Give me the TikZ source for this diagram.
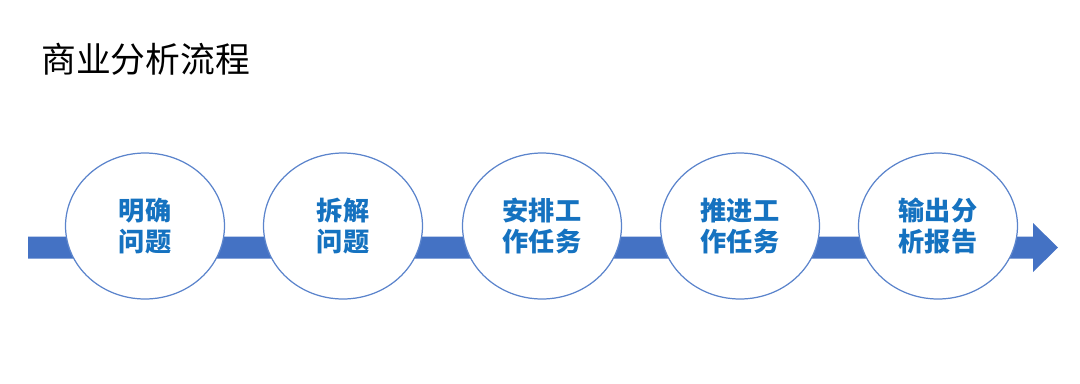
\documentclass[tikz,border=0pt]{standalone}
\usepackage{fontspec}
\usepackage{tikz}
\usetikzlibrary{positioning, shapes.geometric}
\newfontfamily\cjk{Noto Sans CJK SC}
\definecolor{bandblue}{HTML}{4472C4}
\definecolor{ringblue}{HTML}{5B84CC}
\definecolor{textblue}{HTML}{1572C0}

\begin{document}
\begin{tikzpicture}[x=0.02cm, y=-0.02cm]
    \tikzset{
      stepbox/.style={draw=ringblue, line width=0.7pt, fill=white, ellipse, minimum width=3.18cm, minimum height=2.92cm, inner sep=0pt,
        font=\cjk\bfseries\fontsize{14.9pt}{17.5pt}\selectfont, text=textblue, align=center}
    }
    \useasboundingbox (0,0) rectangle (1080,383);

    % --- Title ---
    \node[anchor=west, inner sep=0pt, font=\cjk\fontsize{19.8pt}{22pt}\selectfont] (title) at (41,59) {商业分析流程};

    % --- Band with arrow head ---
    \coordinate (bstart) at (28,247.5);
    \coordinate (bend) at (1058,247.5);
    \fill[bandblue] (bstart) ++(0,-11) -- (1033,236.5) -- (1033,223) -- (bend) -- (1033,272) -- (1033,258.5) -- (28,258.5) -- cycle;

    % --- Steps ---
    \node[stepbox] (s1) at (145,226) {明确\\问题};
    \node[stepbox] (s2) at (343,226) {拆解\\问题};
    \node[stepbox] (s3) at (542,226) {安排工\\作任务};
    \node[stepbox] (s4) at (740,226) {推进工\\作任务};
    \node[stepbox] (s5) at (938,226) {输出分\\析报告};
\end{tikzpicture}
\end{document}
